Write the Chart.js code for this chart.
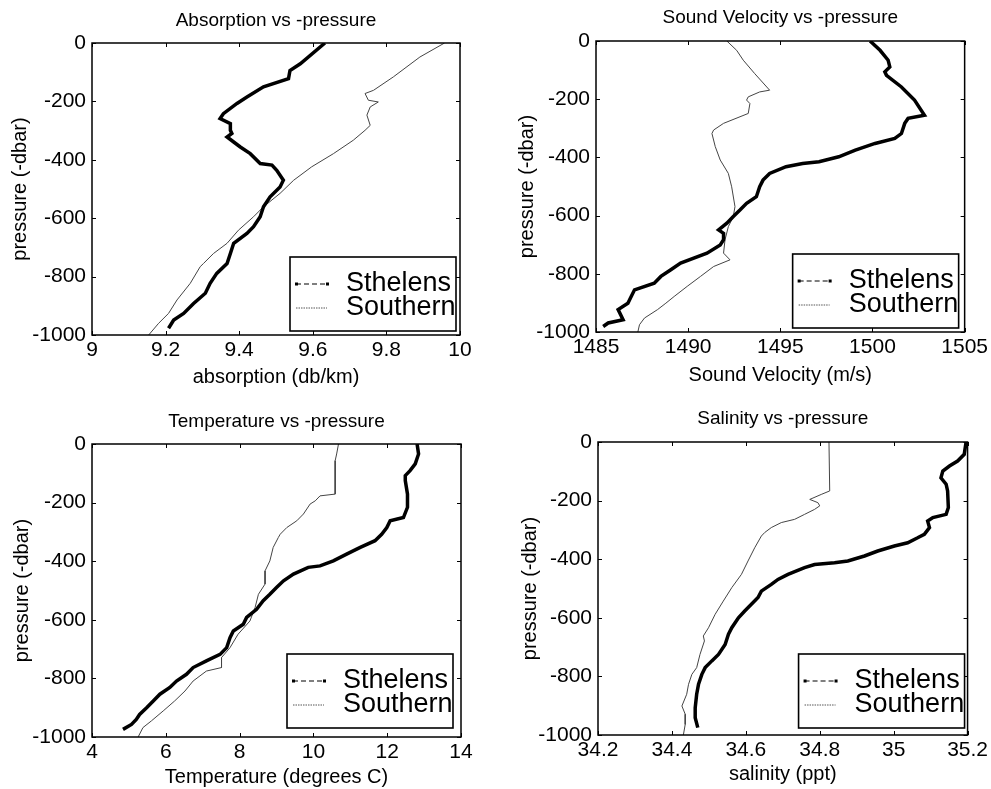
<!DOCTYPE html>
<html><head><meta charset="utf-8">
<script src="https://cdn.jsdelivr.net/npm/chart.js@4.4.1/dist/chart.umd.min.js"></script>
<style>
html,body{margin:0;padding:0;background:#fff;width:991px;height:789px;overflow:hidden}
canvas{position:absolute}
</style></head><body>
<canvas id="c1" width="495" height="394" style="left:0;top:0;width:495px;height:394px"></canvas>
<canvas id="c2" width="496" height="394" style="left:495px;top:0;width:496px;height:394px"></canvas>
<canvas id="c3" width="495" height="395" style="left:0;top:394px;width:495px;height:395px"></canvas>
<canvas id="c4" width="496" height="395" style="left:495px;top:394px;width:496px;height:395px"></canvas>
<script>
// ---------------- data ----------------
const seriesNames = ['Sthelens', 'Southern'];
const pressureTitle = 'pressure (-dbar)';

// Absorption (db/km)
const absSthelensP = [0,-71,-94,-122,-150,-185,-207,-242,-259,-276,-299,-310,-322,-339,-356,-379,-413,-418,-436,-470,-493,-527,-561,-595,-629,-652,-686,-721,-755,-789,-823,-857,-892,-926,-949,-977];
const absSthelensX = [9.633,9.566,9.538,9.534,9.466,9.421,9.394,9.357,9.348,9.376,9.376,9.380,9.367,9.385,9.403,9.430,9.457,9.489,9.502,9.520,9.511,9.484,9.466,9.457,9.439,9.421,9.385,9.376,9.367,9.339,9.321,9.308,9.276,9.249,9.222,9.208];
const absSouthernP = [0,-48,-116,-162,-173,-196,-202,-219,-247,-282,-299,-333,-379,-424,-470,-515,-561,-595,-641,-686,-721,-755,-766,-823,-880,-926,-960,-1000];
const absSouthernX = [9.958,9.891,9.819,9.765,9.742,9.751,9.778,9.756,9.747,9.756,9.742,9.710,9.656,9.597,9.548,9.511,9.466,9.439,9.398,9.367,9.330,9.303,9.294,9.267,9.231,9.208,9.181,9.154];

// Sound velocity (m/s)
const svSthelensP = [0,-32,-66,-89,-106,-118,-158,-203,-255,-266,-283,-318,-335,-352,-375,-398,-415,-421,-432,-455,-478,-501,-535,-558,-581,-603,-626,-649,-661,-683,-701,-729,-763,-786,-809,-832,-855,-878,-901,-923,-958,-969,-981];
const svSthelensX = [1499.87,1500.41,1500.85,1500.94,1500.67,1500.76,1501.57,1502.28,1502.82,1501.93,1501.75,1501.57,1501.21,1500.14,1499.07,1498.17,1497.10,1496.21,1495.31,1494.42,1494.06,1493.88,1493.70,1493.17,1492.81,1492.45,1492.10,1491.65,1491.92,1491.92,1491.74,1491.02,1489.59,1489.06,1488.52,1488.16,1487.09,1486.91,1486.73,1486.20,1486.47,1485.66,1485.39];
const svSouthernP = [0,-32,-66,-112,-169,-175,-192,-203,-215,-249,-283,-306,-318,-363,-409,-455,-501,-569,-603,-638,-683,-729,-752,-775,-809,-843,-878,-901,-923,-952,-975,-1000];
const svSouthernX = [1492.10,1492.63,1492.99,1493.61,1494.42,1493.88,1493.26,1493.17,1493.35,1493.26,1491.92,1491.38,1491.29,1491.47,1491.74,1492.18,1492.36,1492.54,1492.45,1492.18,1492.00,1491.92,1492.27,1491.38,1490.67,1489.95,1489.24,1488.79,1488.34,1487.63,1487.36,1487.27];

// Temperature (degrees C)
const tempSthelensP = [0,-34,-68,-91,-108,-125,-171,-216,-251,-262,-285,-308,-330,-353,-376,-399,-416,-421,-444,-467,-490,-513,-535,-564,-592,-615,-638,-661,-695,-718,-740,-763,-786,-809,-831,-854,-877,-900,-923,-940,-957,-974];
const tempSthelensX = [12.81,12.85,12.76,12.62,12.49,12.49,12.55,12.55,12.44,12.08,11.99,11.85,11.67,11.27,10.90,10.54,10.18,9.86,9.46,9.19,9.00,8.82,8.64,8.46,8.19,8.10,7.83,7.74,7.65,7.47,7.10,6.74,6.56,6.29,6.11,5.84,5.66,5.48,5.29,5.20,5.07,4.84];
const tempSouthernP = [0,-34,-57,-171,-177,-194,-205,-239,-262,-285,-308,-319,-353,-399,-433,-478,-513,-558,-604,-649,-695,-729,-763,-775,-809,-843,-877,-911,-945,-968,-1000];
const tempSouthernX = [10.68,10.63,10.59,10.59,10.18,10.05,9.91,9.73,9.55,9.28,9.10,9.05,8.91,8.82,8.69,8.69,8.51,8.42,8.28,7.96,7.74,7.51,7.51,7.10,6.74,6.52,6.24,5.93,5.61,5.38,5.25];

// Salinity (ppt)
const salSthelensP = [0,-42,-65,-82,-99,-122,-144,-167,-224,-247,-258,-270,-292,-315,-327,-344,-355,-372,-389,-406,-412,-418,-429,-452,-469,-486,-509,-531,-554,-577,-600,-634,-656,-691,-725,-747,-770,-793,-827,-861,-907,-941,-975];
const salSthelensX = [35.196,35.191,35.173,35.151,35.133,35.128,35.142,35.146,35.148,35.142,35.106,35.092,35.097,35.083,35.065,35.038,35.002,34.957,34.921,34.876,34.840,34.786,34.759,34.714,34.687,34.669,34.642,34.633,34.615,34.597,34.580,34.562,34.553,34.544,34.526,34.508,34.490,34.481,34.472,34.467,34.463,34.463,34.470];
const salSouthernP = [0,-167,-179,-196,-207,-218,-230,-247,-264,-275,-292,-309,-321,-361,-406,-452,-497,-543,-588,-634,-662,-679,-725,-770,-793,-827,-861,-901,-929,-964,-1000];
const salSouthernX = [34.825,34.827,34.804,34.773,34.795,34.800,34.786,34.759,34.732,34.696,34.669,34.651,34.642,34.624,34.606,34.588,34.562,34.539,34.517,34.499,34.485,34.488,34.476,34.467,34.454,34.445,34.440,34.427,34.436,34.436,34.431];

// ---------------- drawing ----------------
const FONT = '"Liberation Sans", Arial, Helvetica, sans-serif';

function pts(xs, ps) { return xs.map((v, i) => ({ x: v, y: ps[i] })); }

const framePlugin = {
  id: 'frameLegend',
  afterDatasetsDraw(chart, args, opts) {
    const { ctx, chartArea: a, scales: { x, y } } = chart;
    ctx.save();
    ctx.strokeStyle = '#000';
    ctx.lineWidth = 1.5;
    ctx.strokeRect(a.left, a.top, a.right - a.left, a.bottom - a.top);
    const L = 4;
    ctx.beginPath();
    x.ticks.forEach(t => {
      const px = Math.round(x.getPixelForValue(t.value)) + 0.5;
      ctx.moveTo(px, a.bottom); ctx.lineTo(px, a.bottom - L);
      ctx.moveTo(px, a.top); ctx.lineTo(px, a.top + L);
    });
    y.ticks.forEach(t => {
      const py = Math.round(y.getPixelForValue(t.value)) + 0.5;
      ctx.moveTo(a.left, py); ctx.lineTo(a.left + L, py);
      ctx.moveTo(a.right, py); ctx.lineTo(a.right - L, py);
    });
    ctx.lineWidth = 1;
    ctx.stroke();

    // legend box
    const w = 166, h = 74;
    const bx = a.right - opts.gapRight - w;
    const by = a.bottom - opts.gapBottom - h;
    ctx.fillStyle = '#fff';
    ctx.fillRect(bx, by, w, h);
    ctx.lineWidth = 1.6;
    ctx.strokeStyle = '#000';
    ctx.strokeRect(bx, by, w, h);
    ctx.font = '27px ' + FONT;
    ctx.fillStyle = '#000';
    ctx.textBaseline = 'middle';
    ctx.textAlign = 'left';
    const rows = [by + 27, by + 51];
    chart.data.datasets.forEach((ds, i) => {
      const ry = rows[i];
      ctx.beginPath();
      ctx.strokeStyle = i === 0 ? '#000' : '#555';
      ctx.lineWidth = i === 0 ? 1.2 : 1;
      ctx.setLineDash(i === 0 ? [5, 3] : [1.5, 1]);
      ctx.moveTo(bx + 6, ry); ctx.lineTo(bx + 37, ry);
      ctx.stroke();
      ctx.setLineDash([]);
      if (i === 0) {
        ctx.fillStyle = '#000';
        ctx.fillRect(bx + 5, ry - 1.5, 3, 3);
        ctx.fillRect(bx + 36, ry - 1.5, 3, 3);
      }
      ctx.fillStyle = '#000';
      ctx.fillText(ds.label, bx + 56, ry);
    });
    ctx.restore();
  }
};

function makePanel(id, p) {
  const canvas = document.getElementById(id);
  const W = canvas.width, H = canvas.height;
  const titleLH = 19 * 1.2;
  const axLH = 20 * 1.2;
  new Chart(canvas, {
    type: 'scatter',
    data: {
      datasets: [
        { label: seriesNames[0], data: pts(p.sthX, p.sthP), showLine: true, borderColor: '#000', backgroundColor: '#000', borderWidth: 3.5, pointRadius: 0, tension: 0 },
        { label: seriesNames[1], data: pts(p.souX, p.souP), showLine: true, borderColor: '#444', backgroundColor: '#444', borderWidth: 1, pointRadius: 0, tension: 0 }
      ]
    },
    options: {
      responsive: false,
      animation: false,
      devicePixelRatio: 1,
      layout: { padding: { left: 0, top: 0, bottom: 0, right: W - p.area.right } },
      plugins: {
        legend: { display: false },
        tooltip: { enabled: false },
        title: {
          display: true, text: p.title, color: '#000', fullSize: false,
          font: { family: FONT, size: 19, weight: 'normal', lineHeight: 1.2 },
          padding: { top: p.titleY - titleLH / 2, bottom: p.area.top - p.titleY - titleLH / 2 }
        },
        frameLegend: { gapRight: p.legGap[0], gapBottom: p.legGap[1] }
      },
      scales: {
        x: {
          type: 'linear', position: 'bottom',
          min: p.xMin, max: p.xMax,
          grid: { display: false, drawTicks: false },
          border: { display: false },
          ticks: { stepSize: p.xStep, autoSkip: false, maxRotation: 0, color: '#000', padding: 3,
            font: { family: FONT, size: 21 },
            callback: v => String(+(+v).toFixed(2)) },
          title: { display: true, text: p.xTitle, color: '#000',
            font: { family: FONT, size: 20, lineHeight: 1.2 },
            padding: { top: 0, bottom: (H - p.xTitleY) - axLH / 2 } },
          afterFit: s => { s.height = H - p.area.bottom; }
        },
        y: {
          type: 'linear', position: 'left',
          min: -1000, max: 0,
          grid: { display: false, drawTicks: false },
          border: { display: false },
          ticks: { stepSize: 200, autoSkip: false, color: '#000', padding: 6,
            font: { family: FONT, size: 21 },
            callback: v => String(Math.round(v)) },
          title: { display: true, text: pressureTitle, color: '#000',
            font: { family: FONT, size: 20, lineHeight: 1.2 },
            padding: { top: p.yTitleX - axLH / 2, bottom: 0 } },
          afterFit: s => { s.width = p.area.left; }
        }
      }
    },
    plugins: [framePlugin]
  });
}

makePanel('c1', {
  title: 'Absorption vs -pressure', xTitle: 'absorption (db/km)',
  xMin: 9, xMax: 10, xStep: 0.2,
  sthX: absSthelensX, sthP: absSthelensP, souX: absSouthernX, souP: absSouthernP,
  area: { left: 92, top: 43, right: 460, bottom: 335 },
  titleY: 21, yTitleX: 20, xTitleY: 377, legGap: [4, 4]
});
makePanel('c2', {
  title: 'Sound Velocity vs -pressure', xTitle: 'Sound Velocity (m/s)',
  xMin: 1485, xMax: 1505, xStep: 5,
  sthX: svSthelensX, sthP: svSthelensP, souX: svSouthernX, souP: svSouthernP,
  area: { left: 101, top: 41, right: 474, bottom: 332 },
  titleY: 18, yTitleX: 32, xTitleY: 375, legGap: [6, 4]
});
makePanel('c3', {
  title: 'Temperature vs -pressure', xTitle: 'Temperature (degrees C)',
  xMin: 4, xMax: 14, xStep: 2,
  sthX: tempSthelensX, sthP: tempSthelensP, souX: tempSouthernX, souP: tempSouthernP,
  area: { left: 92, top: 50, right: 461, bottom: 343 },
  titleY: 28, yTitleX: 22, xTitleY: 383, legGap: [8, 9]
});
makePanel('c4', {
  title: 'Salinity vs -pressure', xTitle: 'salinity (ppt)',
  xMin: 34.2, xMax: 35.2, xStep: 0.2,
  sthX: salSthelensX, sthP: salSthelensP, souX: salSouthernX, souP: salSouthernP,
  area: { left: 103, top: 48, right: 473, bottom: 341 },
  titleY: 25, yTitleX: 35, xTitleY: 380, legGap: [3, 7]
});
</script>
</body></html>
